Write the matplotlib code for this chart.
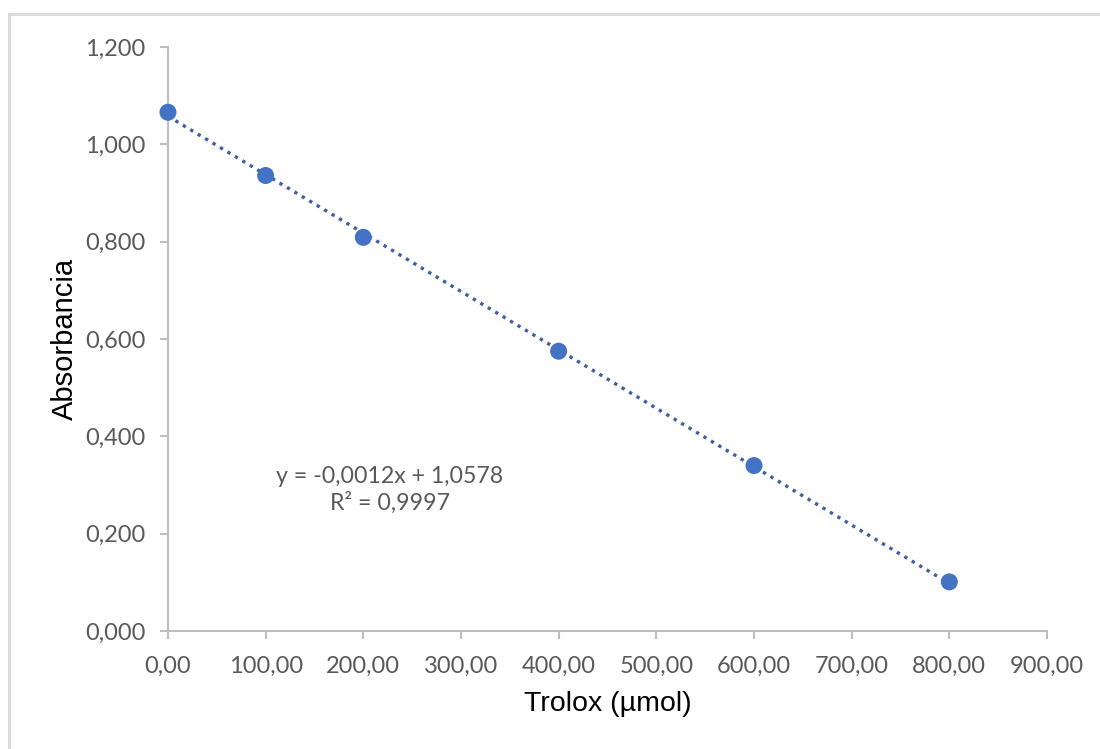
import numpy as np
import matplotlib.pyplot as plt
from matplotlib.lines import Line2D
from matplotlib.ticker import FuncFormatter

# data
trolox = [0, 100, 200, 400, 600, 800]
absorbance = [1.066, 0.936, 0.809, 0.575, 0.340, 0.101]
slope = -0.0012
intercept = 1.0578
r2 = 0.9997

fig = plt.figure(figsize=(11, 7.49), dpi=100)
ax = fig.add_axes([0.1527, 0.1575, 0.7991, 0.7797])

# chart border (only top and left edges are inside the picture)
fig.add_artist(Line2D([9 / 1100, 1.0], [1 - 14 / 749, 1 - 14 / 749], transform=fig.transFigure,
                      color='#D9D9D9', linewidth=2))
fig.add_artist(Line2D([9 / 1100, 9 / 1100], [0, 1 - 14 / 749], transform=fig.transFigure,
                      color='#D9D9D9', linewidth=2))

# trendline
x_line = np.array([trolox[0], trolox[-1]])
ax.plot(x_line, slope * x_line + intercept, linestyle=(0, (1, 1.6)), color='#3F5F9F',
        linewidth=2.4, zorder=2)
ax.scatter(trolox, absorbance, s=150, color='#4472C4', zorder=3, edgecolors='none',
           clip_on=False)

ax.set_xlim(0, 900)
ax.set_ylim(0, 1.2)
ax.set_xticks(np.arange(0, 901, 100))
ax.set_yticks(np.arange(0, 1.21, 0.2))

ax.xaxis.set_major_formatter(FuncFormatter(lambda v, p: f'{v:.2f}'.replace('.', ',')))
ax.yaxis.set_major_formatter(FuncFormatter(lambda v, p: f'{v:.3f}'.replace('.', ',')))

for s in ['top', 'right']:
    ax.spines[s].set_visible(False)
for s in ['left', 'bottom']:
    ax.spines[s].set_color('#BFBFBF')
    ax.spines[s].set_linewidth(1.5)

ax.tick_params(axis='both', colors='#BFBFBF', length=6, width=1.5, direction='out',
               labelcolor='#595959', labelsize=17)
ax.tick_params(axis='x', pad=12)
ax.tick_params(axis='y', pad=10)
for lab in ax.get_xticklabels() + ax.get_yticklabels():
    lab.set_family('Lato')

ax.set_xlabel('Trolox (µmol)', fontsize=20.5, family='Liberation Sans', color='black', labelpad=10)
ax.set_ylabel('Absorbancia', fontsize=21, family='Liberation Sans', color='black', labelpad=4.5)

eq = f'y = {slope:.4f}x + {intercept:.4f}'.replace('.', ',')
r2_txt = f'R² = {r2:.4f}'.replace('.', ',')
ax.text(227, 0.29, eq + '\n' + r2_txt, ha='center', va='center', fontsize=16.7,
        family='Lato', color='#595959', linespacing=1.25)

fig.savefig('out.png', dpi=100, facecolor='white')
